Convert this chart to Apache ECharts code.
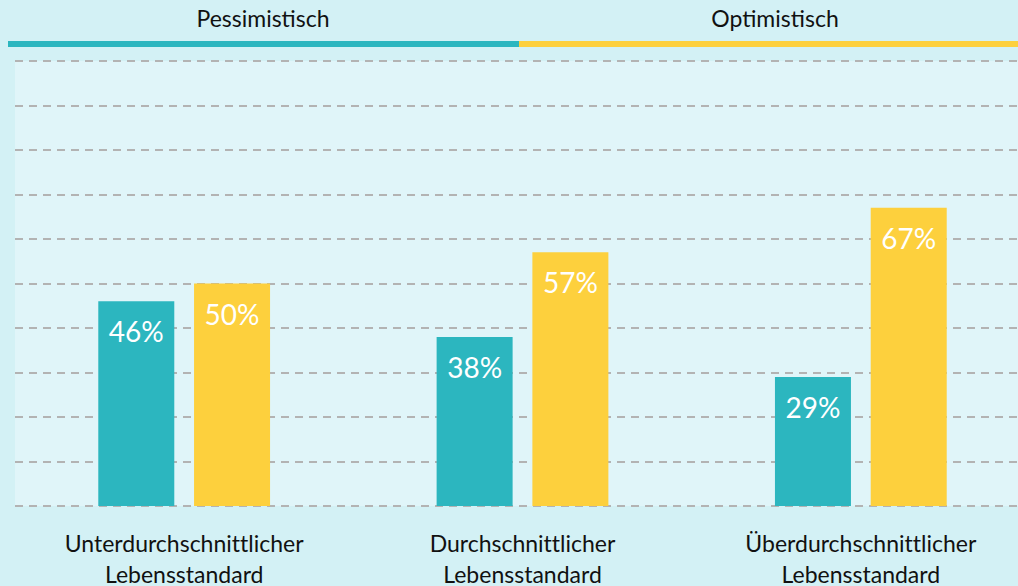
<!DOCTYPE html>
<html>
<head>
<meta charset="utf-8">
<script src="https://cdn.jsdelivr.net/npm/echarts@6/dist/echarts.min.js"></script>
<style>
  html, body { margin: 0; padding: 0; background: #d3f1f5; }
  #chart { width: 1018px; height: 586px; }
  /* Lato ligates "ti"; the original type doesn't */
  #chart text { font-variant-ligatures: none; font-feature-settings: "liga" 0, "clig" 0; }
</style>
</head>
<body>
<div id="chart"></div>
<script>
// Lebensstandard vs. Zukunftserwartung, Anteile in %
const categories = ["Unterdurchschnittlicher\nLebensstandard", "Durchschnittlicher\nLebensstandard", "Überdurchschnittlicher\nLebensstandard"]
const seriesNames = ["Pessimistisch", "Optimistisch"]
const pessimistisch = [46, 38, 29]
const optimistisch = [50, 57, 67]
const colors = ["#2cb6bf", "#fdd03d"]

const chart = echarts.init(document.getElementById("chart"), null, { renderer: "svg" })

const FONT = "Lato"

// legend band at the top: two coloured strips with the series names above
const legendEdges = [8, 519, 1018]
const legendTextX = [263, 775]
const legendGraphic = []
seriesNames.forEach((name, i) => {
  legendGraphic.push({
    type: "rect",
    shape: { x: legendEdges[i], y: 41, width: legendEdges[i + 1] - legendEdges[i], height: 6 },
    style: { fill: colors[i] },
    silent: true
  })
  legendGraphic.push({
    type: "text",
    x: legendTextX[i],
    y: 18,
    style: {
      text: name,
      fill: "#111",
      font: `23px ${FONT}`,
      textAlign: "center",
      textVerticalAlign: "middle"
    },
    silent: true
  })
})

const barLabel = {
  show: true,
  position: "insideTop",
  distance: 16,
  color: "#fff",
  fontFamily: FONT,
  fontSize: 28,
  formatter: (p) => p.value + "%"
}

chart.setOption({
  backgroundColor: "#d3f1f5",
  animation: false,
  grid: {
    left: 15, right: -12, top: 61, bottom: 80,
    outerBoundsMode: "none",
    show: true, backgroundColor: "#e0f5f9", borderWidth: 0,
    containLabel: false
  },
  xAxis: {
    type: "category",
    data: categories,
    axisLine: { show: false },
    axisTick: { show: false },
    axisLabel: {
      color: "#111", fontFamily: FONT, fontSize: 23,
      lineHeight: 31, margin: 21
    }
  },
  yAxis: {
    type: "value",
    min: 0, max: 100, interval: 10,
    axisLabel: { show: false },
    axisLine: { show: false },
    axisTick: { show: false },
    splitLine: { lineStyle: { color: "#b3b3b3", width: 2, type: [8, 6] } }
  },
  series: [
    {
      name: seriesNames[0], type: "bar", data: pessimistisch,
      barWidth: 76, barGap: "26%",
      itemStyle: { color: colors[0] }, label: barLabel
    },
    {
      name: seriesNames[1], type: "bar", data: optimistisch,
      barWidth: 76, barGap: "26%",
      itemStyle: { color: colors[1] }, label: barLabel
    }
  ],
  graphic: legendGraphic
})
</script>
</body>
</html>
